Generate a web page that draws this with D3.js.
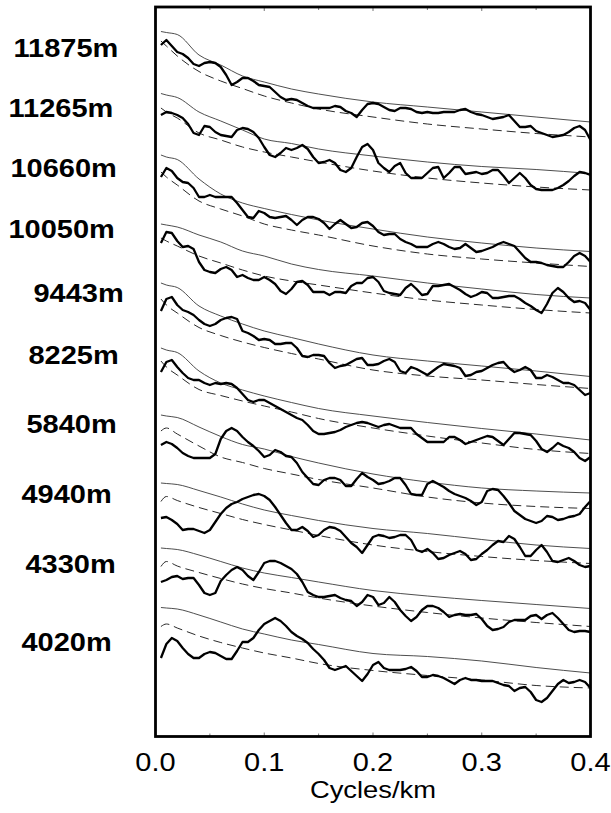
<!DOCTYPE html>
<html>
<head>
<meta charset="utf-8">
<script src="https://cdn.jsdelivr.net/npm/d3@7"></script>
<style>
  html, body { margin: 0; padding: 0; background: #fff; }
  svg { display: block; }
  text { font-family: "Liberation Sans", Arial, Helvetica, sans-serif; fill: #000; }
</style>
</head>
<body>
<svg id="chart" width="611" height="813"></svg>
<script>
// Horizontal-wavenumber spectra at ten depths, offset vertically (relative log power, dB-like units).
// Thick: observed spectrum; thin: upper confidence level; dashed: model spectrum.

const freqStep = 0.005;                        // cycles/km between spectral estimates
const freqs = d3.range(1, 81).map(k => +(k * freqStep).toFixed(3));
const modelFreqs = [0.005, 0.01, 0.02, 0.04, 0.06, 0.08, 0.1, 0.125, 0.15, 0.2, 0.25, 0.3, 0.35, 0.4];
const depthLabels = ["11875m", "11265m", "10660m", "10050m", "9443m", "8225m", "5840m", "4940m", "4330m", "4020m"];
const xTickValues = [0.0, 0.1, 0.2, 0.3, 0.4];
const xMinorTicks = [0.05, 0.15, 0.25, 0.35];

// Observed spectra
const obs11875 = [-3.9,-3.4,-4.0,-4.6,-4.8,-5.2,-5.8,-6.0,-5.7,-5.6,-5.7,-6.1,-6.9,-7.9,-7.6,-7.2,-7.2,-7.5,-7.9,-8.0,-8.1,-8.6,-9.1,-9.4,-9.3,-9.4,-9.7,-10.0,-10.2,-10.2,-10.2,-10.2,-10.0,-10.1,-10.5,-10.7,-11.1,-10.4,-9.8,-9.7,-9.8,-10.1,-10.4,-10.5,-10.2,-10.2,-10.3,-10.6,-10.7,-10.6,-10.7,-10.7,-10.6,-10.6,-10.6,-10.4,-10.3,-10.6,-10.8,-10.9,-11.1,-11.3,-11.2,-11.1,-10.9,-11.5,-12.1,-12.1,-12.0,-12.5,-12.7,-12.9,-13.1,-13.0,-12.9,-12.6,-12.2,-12.0,-12.4,-13.4];
const obs11265 = [-10.9,-10.6,-10.7,-10.9,-11.2,-11.8,-12.7,-12.9,-12.0,-12.1,-12.6,-12.9,-13.0,-13.1,-12.4,-12.2,-12.3,-12.6,-13.2,-14.1,-14.9,-15.1,-14.7,-14.2,-14.4,-14.2,-13.9,-14.3,-15.1,-15.7,-15.6,-15.4,-15.7,-16.4,-16.6,-16.2,-15.1,-14.1,-13.8,-14.4,-15.7,-16.2,-16.6,-16.0,-15.7,-16.7,-17.2,-17.2,-17.2,-16.7,-16.2,-16.1,-17.2,-16.7,-16.1,-16.1,-16.8,-16.7,-16.6,-16.8,-16.7,-16.4,-16.4,-17.0,-17.7,-17.2,-16.7,-17.2,-17.9,-18.3,-18.4,-18.4,-18.4,-18.2,-17.9,-17.5,-17.0,-16.6,-16.7,-16.9];
const obs10660 = [-17.1,-16.2,-16.5,-17.2,-17.6,-17.7,-18.2,-19.1,-19.1,-18.9,-19.1,-19.1,-19.1,-19.1,-19.7,-20.4,-21.1,-21.2,-20.5,-20.7,-21.1,-21.2,-21.1,-21.0,-21.4,-21.9,-21.4,-21.1,-21.1,-21.3,-21.7,-22.3,-21.8,-21.4,-21.8,-22.2,-22.1,-21.7,-21.6,-22.0,-22.6,-22.9,-22.8,-22.8,-23.3,-23.6,-23.8,-24.1,-24.1,-24.1,-23.8,-23.6,-23.8,-24.1,-24.3,-24.2,-23.8,-24.2,-24.6,-24.5,-24.3,-24.1,-23.8,-23.6,-23.8,-24.0,-24.6,-25.2,-25.6,-25.6,-25.7,-25.9,-26.0,-26.1,-26.1,-25.6,-25.0,-24.7,-25.0,-25.6];
const obs10050 = [-23.7,-22.6,-22.7,-23.5,-24.1,-24.0,-24.3,-25.6,-26.4,-26.6,-26.7,-26.3,-26.1,-26.4,-27.1,-26.9,-27.2,-27.4,-27.4,-27.1,-27.4,-27.8,-28.5,-28.8,-28.3,-27.6,-27.5,-27.9,-28.6,-28.6,-28.6,-28.9,-28.6,-28.6,-28.7,-28.0,-27.7,-27.7,-27.2,-27.1,-27.6,-28.5,-28.7,-28.8,-28.9,-28.2,-27.8,-28.3,-28.9,-28.8,-28.0,-28.0,-27.9,-27.8,-28.1,-28.4,-28.8,-29.1,-28.9,-28.6,-28.7,-29.2,-29.2,-29.1,-29.0,-29.0,-29.3,-29.7,-30.0,-30.4,-30.7,-29.8,-28.7,-28.2,-28.6,-29.2,-29.6,-29.5,-29.7,-30.4];
const obs9443 = [-30.5,-29.3,-29.1,-29.9,-30.4,-30.6,-30.9,-31.4,-31.8,-32.0,-31.8,-31.4,-31.2,-31.1,-31.3,-32.5,-32.7,-33.0,-33.4,-33.3,-33.4,-33.8,-33.8,-33.7,-33.7,-34.2,-35.0,-35.1,-34.9,-34.9,-35.0,-35.7,-36.2,-36.0,-35.9,-35.6,-35.3,-35.2,-35.9,-35.9,-35.8,-35.5,-35.3,-35.6,-36.5,-36.7,-36.1,-36.3,-36.6,-36.9,-36.5,-36.1,-35.8,-35.9,-36.0,-36.2,-37.0,-36.9,-36.6,-36.5,-36.2,-35.9,-35.7,-35.6,-36.2,-36.6,-36.4,-36.1,-36.4,-37.2,-37.2,-36.9,-37.1,-37.4,-37.7,-37.7,-37.9,-38.4,-38.9,-38.7];
const obs8225 = [-36.6,-35.6,-35.4,-36.1,-36.7,-37.2,-37.4,-37.4,-37.7,-37.9,-37.7,-37.8,-37.7,-37.8,-38.2,-38.8,-39.4,-39.6,-39.4,-39.4,-39.7,-40.0,-40.3,-40.6,-40.9,-41.2,-41.4,-41.9,-42.5,-42.8,-42.8,-42.7,-42.6,-42.4,-42.1,-41.9,-41.7,-41.6,-41.7,-41.9,-42.1,-41.9,-41.8,-42.0,-42.2,-42.2,-42.2,-42.8,-43.2,-43.6,-43.6,-43.6,-43.6,-43.1,-43.1,-43.4,-43.8,-43.6,-43.4,-43.2,-43.0,-43.1,-43.5,-43.9,-43.3,-42.7,-42.7,-42.8,-42.9,-43.5,-44.3,-44.6,-44.2,-43.7,-44.0,-44.2,-44.6,-45.2,-45.5,-45.1];
const obs5840 = [-43.9,-43.6,-43.8,-44.2,-44.7,-45.0,-45.2,-45.2,-45.2,-45.2,-44.8,-43.3,-42.5,-42.2,-42.5,-43.1,-43.6,-44.0,-44.5,-45.1,-44.9,-44.4,-44.6,-45.0,-45.1,-45.7,-46.6,-47.2,-47.8,-47.9,-47.4,-47.2,-47.2,-47.4,-48.0,-48.0,-47.3,-46.7,-47.1,-47.4,-47.8,-47.7,-47.5,-47.2,-47.2,-47.9,-48.8,-48.9,-48.9,-47.8,-47.5,-47.8,-48.1,-48.5,-48.8,-49.0,-49.2,-49.5,-49.9,-49.6,-48.5,-48.3,-48.4,-49.0,-49.7,-50.5,-50.9,-51.3,-51.5,-51.7,-51.5,-51.0,-51.1,-51.4,-51.3,-51.1,-51.0,-50.8,-50.1,-49.5];
const obs4940 = [-51.2,-51.1,-51.4,-51.8,-52.4,-52.3,-52.3,-52.5,-52.7,-52.4,-51.6,-50.8,-50.2,-49.8,-49.6,-49.3,-49.1,-48.9,-48.8,-49.0,-49.4,-50.1,-50.9,-51.7,-52.4,-52.4,-52.1,-52.5,-53.1,-52.9,-52.4,-52.1,-52.2,-52.5,-53.1,-53.7,-54.1,-54.7,-53.9,-53.1,-52.9,-53.0,-53.2,-53.1,-52.9,-52.9,-53.4,-54.4,-54.6,-54.3,-54.7,-55.3,-55.2,-54.9,-54.7,-54.5,-54.8,-55.4,-55.3,-54.8,-54.4,-53.9,-53.5,-53.6,-53.0,-53.3,-54.1,-55.0,-55.0,-54.4,-53.9,-54.6,-55.5,-55.6,-55.4,-55.2,-55.5,-55.9,-56.1,-56.0];
const obs4330 = [-57.6,-57.4,-57.1,-57.0,-57.3,-57.2,-57.2,-57.9,-58.7,-58.9,-58.7,-57.5,-56.9,-56.4,-56.1,-56.4,-57.0,-57.4,-56.6,-55.7,-55.5,-55.5,-55.7,-56.0,-56.3,-56.8,-57.6,-58.6,-58.9,-59.1,-59.1,-59.0,-58.9,-59.2,-59.4,-59.5,-60.0,-59.6,-58.9,-59.1,-59.9,-59.7,-59.1,-59.6,-60.4,-61.0,-61.5,-61.1,-60.4,-60.0,-60.0,-60.2,-60.6,-61.1,-60.9,-60.8,-60.9,-60.9,-60.8,-61.3,-62.0,-62.4,-62.3,-62.1,-61.6,-61.4,-61.4,-61.4,-61.0,-60.9,-61.3,-60.9,-60.7,-61.2,-61.8,-62.4,-62.6,-62.5,-62.5,-62.6];
const obs4020 = [-65.2,-63.8,-63.2,-63.5,-64.2,-64.8,-65.2,-65.2,-64.8,-64.6,-64.7,-65.0,-65.3,-65.3,-64.5,-63.6,-63.6,-63.2,-62.4,-61.8,-61.5,-61.2,-61.5,-62.0,-62.6,-63.0,-63.3,-63.7,-64.3,-64.8,-65.4,-66.2,-66.4,-66.2,-66.0,-66.5,-67.0,-67.5,-66.8,-65.9,-65.6,-66.2,-66.4,-66.4,-66.4,-66.3,-66.1,-66.5,-67.1,-67.1,-66.9,-67.0,-67.2,-67.5,-67.8,-67.4,-67.2,-67.4,-67.4,-67.5,-67.5,-67.5,-67.7,-67.9,-68.0,-68.5,-68.2,-68.1,-68.6,-69.4,-69.6,-69.2,-68.5,-67.8,-67.4,-67.7,-67.6,-67.4,-67.6,-68.2];

// Upper confidence levels (sampled at modelFreqs)
const upper11875 = [-2.55,-2.65,-2.85,-4.9,-5.9,-7.0,-7.6,-8.3,-8.8,-9.6,-10.1,-10.6,-11.1,-11.6];
const upper11265 = [-8.75,-8.9,-9.15,-10.6,-11.5,-12.4,-13.3,-13.75,-14.3,-15.0,-15.6,-16.05,-16.35,-16.75];
const upper10660 = [-14.9,-15.1,-15.35,-17.3,-18.8,-19.7,-20.25,-20.85,-21.4,-22.3,-23.1,-23.7,-24.2,-24.55];
const upper10050 = [-21.8,-21.9,-22.1,-22.9,-23.6,-24.5,-25.0,-25.8,-26.35,-27.0,-27.7,-28.3,-28.85,-29.2];
const upper9443 = [-27.7,-27.9,-28.15,-30.0,-31.0,-31.8,-32.5,-33.15,-33.8,-34.9,-35.5,-36.0,-36.5,-37.05];
const upper8225 = [-34.2,-34.4,-34.65,-36.5,-37.7,-38.4,-39.0,-39.65,-40.25,-41.0,-41.65,-42.25,-42.8,-43.4];
const upper5840 = [-40.9,-41.0,-41.15,-42.1,-43.05,-43.85,-44.3,-45.05,-45.7,-46.8,-47.6,-48.2,-48.5,-48.7];
const upper4940 = [-47.7,-47.75,-47.85,-48.45,-49.1,-49.8,-50.4,-50.95,-51.45,-52.25,-52.75,-53.35,-53.9,-54.25];
const upper4330 = [-54.2,-54.25,-54.35,-54.9,-55.55,-56.2,-56.7,-57.15,-57.6,-58.45,-59.0,-59.45,-59.85,-60.25];
const upper4020 = [-60.15,-60.2,-60.3,-60.9,-61.6,-62.3,-62.8,-63.4,-63.85,-64.75,-65.05,-65.5,-66.15,-66.7];

// Model spectra (sampled at modelFreqs)
const model11875 = [-3.5,-4.0,-5.0,-6.55,-7.5,-8.25,-9.0,-9.7,-10.3,-11.1,-11.8,-12.3,-12.75,-13.1];
const model11265 = [-10.2,-10.6,-11.2,-12.7,-13.4,-14.1,-14.6,-15.1,-15.6,-16.5,-17.2,-17.7,-18.1,-18.4];
const model10660 = [-16.6,-17.1,-17.9,-19.5,-20.3,-21.0,-21.8,-22.4,-22.9,-24.0,-24.8,-25.3,-25.7,-26.05];
const model10050 = [-23.2,-23.5,-24.0,-25.0,-25.7,-26.4,-27.0,-27.5,-27.9,-28.7,-29.4,-29.9,-30.35,-30.7];
const model9443 = [-29.3,-29.9,-30.7,-32.15,-32.95,-33.6,-34.15,-34.75,-35.3,-36.4,-37.0,-37.4,-37.85,-38.25];
const model8225 = [-35.5,-36.1,-36.9,-38.35,-38.95,-39.5,-40.0,-40.6,-41.25,-42.2,-43.0,-43.7,-44.35,-44.75];
const model5840 = [-42.5,-42.2,-42.8,-44.0,-45.1,-45.65,-46.25,-46.8,-47.35,-48.2,-49.1,-49.7,-50.05,-50.25];
const model4940 = [-49.55,-49.05,-49.45,-50.15,-50.75,-51.35,-51.85,-52.4,-52.95,-53.9,-54.55,-55.05,-55.45,-55.75];
const model4330 = [-56.05,-55.55,-56.0,-56.65,-57.25,-57.8,-58.25,-58.7,-59.2,-60.0,-60.65,-61.2,-61.65,-62.05];
const model4020 = [-62.05,-61.8,-62.2,-63.0,-63.65,-64.2,-64.7,-65.2,-65.75,-66.45,-66.95,-67.4,-67.95,-68.2];

const observedSeries = [obs11875, obs11265, obs10660, obs10050, obs9443, obs8225, obs5840, obs4940, obs4330, obs4020];
const upperSeries = [upper11875, upper11265, upper10660, upper10050, upper9443, upper8225, upper5840, upper4940, upper4330, upper4020];
const modelSeries = [model11875, model11265, model10660, model10050, model9443, model8225, model5840, model4940, model4330, model4020];

// ---- layout ----
const frame = { left: 155.5, right: 590.5, top: 7, bottom: 736.5 };
const textStretch = 1.16;     // glyphs are drawn somewhat wide
// depth label placement: [left edge, baseline]
const labelPlacement = [[13.5, 56.5], [8.5, 117], [10.5, 177], [8.5, 237.5], [33.5, 302], [28.5, 364], [26.5, 433], [21.5, 503], [25.5, 573], [21.5, 651]];

const svg = d3.select("#chart");

const x = d3.scaleLinear().domain([0, 0.4]).range([frame.left, frame.right]);
const y = d3.scaleLinear().domain([0, -73]).range([6, 736]);

const table = depthLabels.map((label, i) => ({
  label,
  observed: freqs.map((f, k) => [f, observedSeries[i][k]]),
  upper: modelFreqs.map((f, k) => [f, upperSeries[i][k]]),
  model: modelFreqs.map((f, k) => [f, modelSeries[i][k]])
}));

const jagged = d3.line().x(d => x(d[0])).y(d => y(d[1])).curve(d3.curveLinear);
const smooth = d3.line().x(d => x(d[0])).y(d => y(d[1])).curve(d3.curveMonotoneX);

const plot = svg.append("g");

const groups = plot.selectAll("g.spectrum").data(table).join("g").attr("class", "spectrum");

groups.append("path")
  .attr("d", d => smooth(d.upper))
  .attr("fill", "none")
  .attr("stroke", "#3a3a3a")
  .attr("stroke-width", 0.9);

groups.append("path")
  .attr("d", d => smooth(d.model))
  .attr("fill", "none")
  .attr("stroke", "#2a2a2a")
  .attr("stroke-width", 1.0)
  .attr("stroke-dasharray", "9,5");

groups.append("path")
  .attr("d", d => jagged(d.observed))
  .attr("fill", "none")
  .attr("stroke", "#000")
  .attr("stroke-width", 2.3)
  .attr("stroke-linejoin", "round");

// inward ticks on bottom and top edges, placed with the x scale
const allTicks = xTickValues.concat(xMinorTicks).filter(v => v > 0 && v < 0.4);
svg.append("g").selectAll("line").data(allTicks).join("line")
  .attr("x1", d => x(d)).attr("x2", d => x(d))
  .attr("y1", frame.bottom).attr("y2", d => frame.bottom - (xMinorTicks.includes(d) ? 3 : 4))
  .attr("stroke", "#777").attr("stroke-width", 1);
svg.append("g").selectAll("line").data(allTicks).join("line")
  .attr("x1", d => x(d)).attr("x2", d => x(d))
  .attr("y1", frame.top).attr("y2", d => frame.top + (xMinorTicks.includes(d) ? 3 : 4))
  .attr("stroke", "#777").attr("stroke-width", 1);

// tick labels
svg.append("g").selectAll("text").data(xTickValues).join("text")
  .attr("transform", d => `translate(${x(d)},770.5) scale(${textStretch},1)`)
  .attr("text-anchor", "middle")
  .style("font-size", "25px")
  .text(d3.format(".1f"));

// axis title
svg.append("text")
  .attr("transform", `translate(${(frame.left + frame.right) / 2},797.5) scale(${textStretch + 0.03},1)`)
  .attr("text-anchor", "middle")
  .style("font-size", "23px")
  .text("Cycles/km");

// frame
svg.append("rect")
  .attr("x", frame.left).attr("y", frame.top)
  .attr("width", frame.right - frame.left).attr("height", frame.bottom - frame.top)
  .attr("fill", "none").attr("stroke", "#000").attr("stroke-width", 2.8);

// depth labels
svg.append("g").selectAll("text").data(depthLabels).join("text")
  .attr("transform", (d, i) => `translate(${labelPlacement[i][0]},${labelPlacement[i][1]}) scale(${textStretch},1)`)
  .style("font-size", "25px")
  .style("font-weight", "bold")
  .text(d => d);
</script>
</body>
</html>
